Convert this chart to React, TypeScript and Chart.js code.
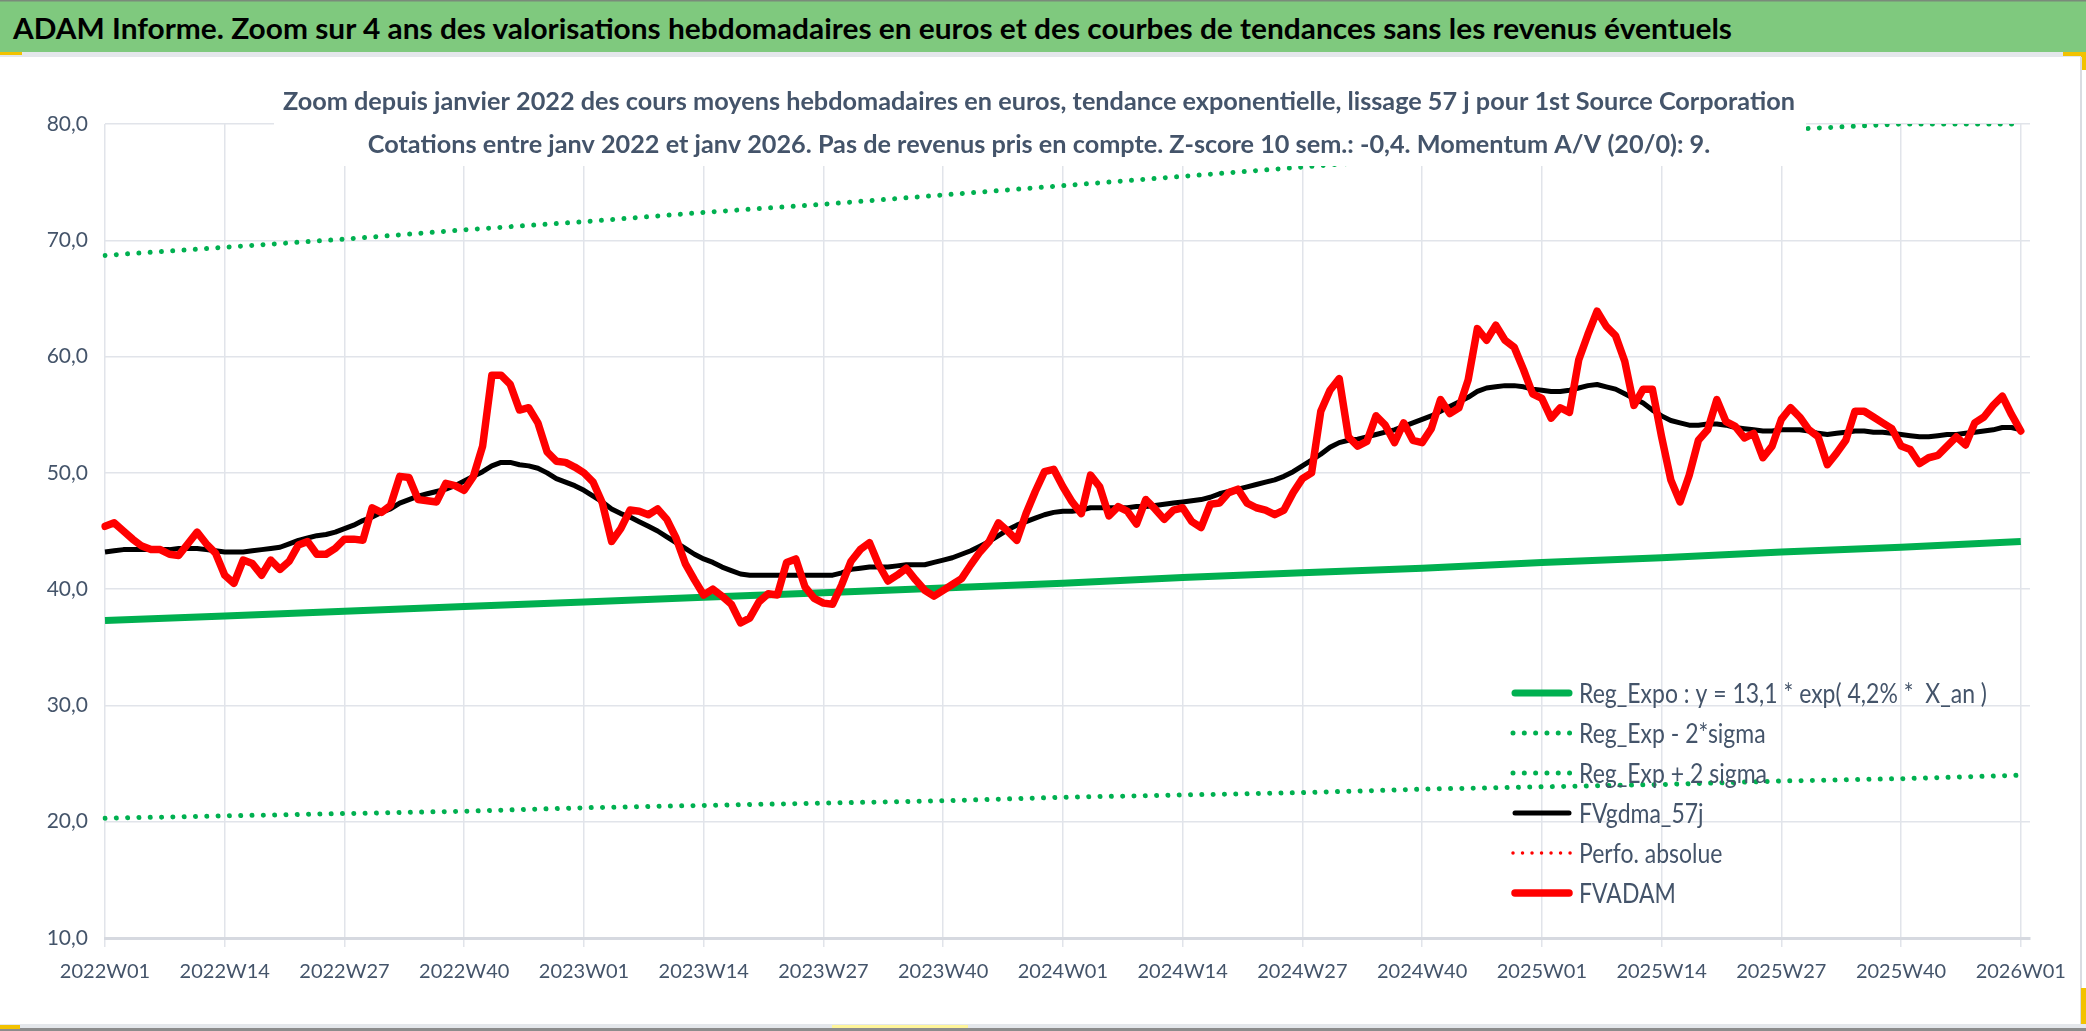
import React, { useEffect, useRef } from 'react';
import { Chart, registerables } from 'chart.js';

Chart.register(...registerables);

const FONT = "Lato, 'Open Sans', 'DejaVu Sans', sans-serif";
const TEXT = '#44546A';
const GRID = '#E1E4EA';
const AXIS = '#D6D9E0';

const HEADER =
  'ADAM Informe. Zoom sur 4 ans des valorisations hebdomadaires en euros et des courbes de tendances sans les revenus éventuels';
const SUBTITLE = [
  'Zoom depuis janvier 2022 des cours moyens hebdomadaires en euros, tendance exponentielle, lissage 57 j pour 1st Source Corporation',
  'Cotations entre janv 2022 et janv 2026. Pas de revenus pris en compte. Z-score 10 sem.: -0,4. Momentum A/V (20/0): 9.',
];

// weekly categories 2022W01 .. 2026W02 (last one is an empty slot at the right edge)
const WEEKS: string[] = (() => {
  const out: string[] = [];
  for (const y of [2022, 2023, 2024, 2025]) {
    for (let w = 1; w <= 52; w++) out.push(`${y}W${String(w).padStart(2, '0')}`);
  }
  out.push('2026W01', '2026W02');
  return out;
})();

const TICK_LABELS = [
  '2022W01', '2022W14', '2022W27', '2022W40',
  '2023W01', '2023W14', '2023W27', '2023W40',
  '2024W01', '2024W14', '2024W27', '2024W40',
  '2025W01', '2025W14', '2025W27', '2025W40',
  '2026W01',
];

// FVADAM weekly values (2022W01 .. 2026W01)
const FVADAM = [
  45.4, 45.7, 45.0, 44.3, 43.7, 43.4, 43.4, 43.0, 42.9, 43.9,
  44.9, 43.9, 43.1, 41.2, 40.5, 42.5, 42.2, 41.2, 42.5, 41.7,
  42.4, 43.8, 44.1, 43.0, 43.0, 43.5, 44.3, 44.3, 44.2, 47.0,
  46.6, 47.2, 49.7, 49.6, 47.7, 47.6, 47.5, 49.1, 48.9, 48.5,
  49.7, 52.3, 58.4, 58.4, 57.6, 55.4, 55.6, 54.3, 51.8, 51.0,
  50.9, 50.5, 50.0, 49.2, 47.4, 44.1, 45.2, 46.8, 46.7, 46.4,
  46.9, 46.0, 44.4, 42.2, 40.8, 39.5, 40.0, 39.4, 38.7, 37.1,
  37.5, 38.9, 39.6, 39.5, 42.3, 42.6, 40.2, 39.2, 38.8, 38.7,
  40.4, 42.4, 43.4, 44.0, 42.1, 40.7, 41.2, 41.8, 40.8, 39.9,
  39.4, 39.9, 40.4, 40.9, 42.1, 43.2, 44.1, 45.7, 45.0, 44.2,
  46.5, 48.4, 50.1, 50.3, 48.8, 47.5, 46.5, 49.8, 48.8, 46.3,
  47.1, 46.7, 45.6, 47.7, 46.9, 46.0, 46.8, 47.0, 45.8, 45.3,
  47.3, 47.4, 48.3, 48.6, 47.4, 47.0, 46.8, 46.4, 46.8, 48.3,
  49.5, 50.0, 55.3, 57.1, 58.1, 53.1, 52.3, 52.7, 54.9, 54.1,
  52.6, 54.3, 52.8, 52.6, 53.8, 56.3, 55.1, 55.6, 58.0, 62.4,
  61.4, 62.7, 61.4, 60.8, 58.9, 56.8, 56.4, 54.7, 55.6, 55.2,
  59.7, 61.9, 63.9, 62.6, 61.8, 59.6, 55.8, 57.2, 57.2, 53.1,
  49.4, 47.5, 49.8, 52.8, 53.7, 56.3, 54.4, 54.0, 53.0, 53.4,
  51.3, 52.3, 54.6, 55.6, 54.8, 53.7, 53.1, 50.7, 51.7, 52.8,
  55.3, 55.3, 54.8, 54.3, 53.8, 52.3, 52.0, 50.8, 51.3, 51.5,
  52.3, 53.1, 52.4, 54.3, 54.8, 55.8, 56.6, 55.0, 53.6,
];

// FVgdma_57j weekly values (2022W01 .. 2026W01)
const FVGDMA = [
  43.2, 43.3, 43.4, 43.4, 43.4, 43.4, 43.4, 43.4, 43.5, 43.5,
  43.5, 43.4, 43.3, 43.2, 43.2, 43.2, 43.3, 43.4, 43.5, 43.6,
  43.9, 44.2, 44.4, 44.6, 44.7, 44.9, 45.2, 45.5, 45.9, 46.2,
  46.6, 46.9, 47.4, 47.7, 48.0, 48.2, 48.4, 48.6, 48.9, 49.3,
  49.7, 50.1, 50.6, 50.9, 50.9, 50.7, 50.6, 50.4, 50.0, 49.5,
  49.2, 48.9, 48.5, 48.0, 47.5, 46.9, 46.5, 46.2, 45.8, 45.4,
  45.0, 44.5, 44.0, 43.5, 43.0, 42.6, 42.3, 41.9, 41.6, 41.3,
  41.2, 41.2, 41.2, 41.2, 41.2, 41.2, 41.2, 41.2, 41.2, 41.2,
  41.4, 41.7, 41.8, 41.9, 41.9, 41.9, 42.0, 42.1, 42.1, 42.1,
  42.3, 42.5, 42.7, 43.0, 43.3, 43.7, 44.1, 44.6, 45.1, 45.5,
  45.8, 46.1, 46.4, 46.6, 46.7, 46.7, 46.8, 47.0, 47.0, 47.0,
  47.0, 47.0, 47.1, 47.1, 47.2, 47.3, 47.4, 47.5, 47.6, 47.7,
  47.9, 48.2, 48.4, 48.6, 48.8, 49.0, 49.2, 49.4, 49.7, 50.1,
  50.6, 51.1, 51.6, 52.2, 52.6, 52.8, 52.9, 53.1, 53.3, 53.5,
  53.7, 54.0, 54.3, 54.6, 54.9, 55.3, 55.7, 56.1, 56.5, 57.0,
  57.3, 57.4, 57.5, 57.5, 57.4, 57.2, 57.1, 57.0, 57.0, 57.1,
  57.3, 57.5, 57.6, 57.4, 57.2, 56.8, 56.4, 56.0, 55.4, 54.9,
  54.5, 54.3, 54.1, 54.1, 54.2, 54.2, 54.1, 53.9, 53.8, 53.7,
  53.6, 53.6, 53.7, 53.7, 53.7, 53.6, 53.4, 53.3, 53.4, 53.5,
  53.6, 53.6, 53.5, 53.5, 53.4, 53.3, 53.2, 53.1, 53.1, 53.2,
  53.3, 53.3, 53.4, 53.5, 53.6, 53.7, 53.9, 53.9, 53.7,
];

// trend lines read at each labelled week (TICK_LABELS)
const REG_EXPO = [37.3, 37.7, 38.1, 38.5, 38.9, 39.3, 39.7, 40.1, 40.5, 41.0, 41.4, 41.8, 42.3, 42.7, 43.2, 43.6, 44.1];
const REG_LOW = [20.3, 20.5, 20.7, 20.9, 21.2, 21.4, 21.6, 21.8, 22.1, 22.3, 22.5, 22.8, 23.0, 23.2, 23.5, 23.7, 24.0];
const REG_HIGH = [68.7, 69.4, 70.1, 70.9, 71.6, 72.4, 73.1, 73.9, 74.7, 75.5, 76.3, 77.1, 77.9, 78.7, 79.5, 80.0, 80.0];
const PERFO_ABS: (number | null)[] = [];

const Y_MIN = 10;
const Y_MAX = 80;
const Y_STEP = 10;

const LEGEND_LABELS = [
  'Reg_Expo : y = 13,1 * exp( 4,2% *  X_an )',
  'Reg_Exp - 2*sigma',
  'Reg_Exp + 2 sigma',
  'FVgdma_57j',
  'Perfo. absolue',
  'FVADAM',
];

function atTicks(vals: number[]): (number | null)[] {
  return WEEKS.map((lab) => {
    const k = TICK_LABELS.indexOf(lab);
    return k >= 0 ? vals[k] : null;
  });
}

function measure(text: string, font: string): number {
  const c = document.createElement('canvas').getContext('2d') as CanvasRenderingContext2D;
  c.font = font;
  return c.measureText(text).width;
}

const SUB_FONT = `bold 25.5px ${FONT}`;
const LEG_FONT = `26px ${FONT}`;

export default function App() {
  const ref = useRef<HTMLCanvasElement | null>(null);

  useEffect(() => {
    document.body.style.margin = '0';
    document.body.style.overflow = 'hidden';
    const subScale = 1512 / measure(SUBTITLE[0], SUB_FONT);
    const legScale = 408 / measure(LEGEND_LABELS[0], LEG_FONT);

    const squeezed = (ctx: CanvasRenderingContext2D, text: string, x: number, y: number, sx: number) => {
      ctx.save();
      ctx.translate(x, y);
      ctx.scale(sx, 1);
      ctx.fillText(text, 0, 0);
      ctx.restore();
    };

    const overlay = {
      id: 'overlay',
      afterDraw(chart: any) {
        const ctx: CanvasRenderingContext2D = chart.ctx;
        ctx.save();
        // subtitle box (white, over the plot)
        ctx.fillStyle = '#ffffff';
        ctx.fillRect(274, 60, 1806 - 274, 166 - 60);
        ctx.fillStyle = TEXT;
        ctx.font = SUB_FONT;
        ctx.textAlign = 'center';
        ctx.textBaseline = 'alphabetic';
        squeezed(ctx, SUBTITLE[0], 1039, 110, subScale);
        squeezed(ctx, SUBTITLE[1], 1039, 153, subScale);

        // legend
        ctx.textAlign = 'left';
        ctx.font = LEG_FONT;
        chart.data.datasets.forEach((ds: any, i: number) => {
          const y = 693 + i * 40;
          ctx.save();
          ctx.strokeStyle = ds.borderColor;
          ctx.lineWidth = ds.borderWidth;
          ctx.lineCap = 'round';
          ctx.setLineDash(ds.borderDash || []);
          ctx.beginPath();
          ctx.moveTo(ds.borderDash ? 1513 : 1515, y);
          ctx.lineTo(ds.borderDash ? 1572 : 1569, y);
          ctx.stroke();
          ctx.restore();
          ctx.fillStyle = TEXT;
          squeezed(ctx, ds.label, 1579, y + 10, legScale);
        });
        ctx.restore();
      },
    };

    const chart = new Chart(ref.current as HTMLCanvasElement, {
      type: 'line',
      data: {
        labels: WEEKS,
        datasets: [
          {
            label: LEGEND_LABELS[0],
            data: atTicks(REG_EXPO),
            borderColor: '#00B050',
            borderWidth: 7,
            spanGaps: true,
            order: 3,
          },
          {
            label: LEGEND_LABELS[1],
            data: atTicks(REG_LOW),
            borderColor: '#00B050',
            borderWidth: 5,
            borderDash: [0.01, 11.3],
            borderCapStyle: 'round',
            spanGaps: true,
            order: 4,
          },
          {
            label: LEGEND_LABELS[2],
            data: atTicks(REG_HIGH),
            borderColor: '#00B050',
            borderWidth: 5,
            borderDash: [0.01, 11.3],
            borderCapStyle: 'round',
            spanGaps: true,
            order: 4,
          },
          {
            label: LEGEND_LABELS[3],
            data: FVGDMA,
            borderColor: '#000000',
            borderWidth: 5,
            borderJoinStyle: 'round',
            order: 1,
          },
          {
            label: LEGEND_LABELS[4],
            data: PERFO_ABS,
            borderColor: '#FF0000',
            borderWidth: 3.5,
            borderDash: [0.01, 9.5],
            borderCapStyle: 'round',
            order: 2,
          },
          {
            label: LEGEND_LABELS[5],
            data: FVADAM,
            borderColor: '#FF0000',
            borderWidth: 7.5,
            borderJoinStyle: 'round',
            borderCapStyle: 'round',
            order: 0,
          },
        ] as any,
      },
      options: {
        animation: false,
        responsive: false,
        events: [],
        elements: { point: { radius: 0 }, line: { tension: 0 } },
        layout: { padding: { left: 0, right: 56, top: 124, bottom: 0 } },
        plugins: {
          legend: { display: false },
          title: { display: false },
          tooltip: { enabled: false },
        },
        scales: {
          x: {
            type: 'category',
            offset: false,
            grid: {
              color: (c: any) => (c.index % 13 === 0 ? GRID : 'rgba(0,0,0,0)'),
              lineWidth: 1.5,
              tickLength: 9,
              drawTicks: true,
            },
            border: { display: true, color: AXIS, width: 3 },
            ticks: {
              autoSkip: false,
              maxRotation: 0,
              minRotation: 0,
              padding: 13,
              color: TEXT,
              font: { family: FONT, size: 20 },
              callback: (_v: any, i: number) => (TICK_LABELS.includes(WEEKS[i]) ? WEEKS[i] : ''),
            },
            afterFit: (s: any) => {
              s.height = 93;
            },
          },
          y: {
            min: Y_MIN,
            max: Y_MAX,
            ticks: {
              stepSize: Y_STEP,
              padding: 17,
              color: TEXT,
              font: { family: FONT, size: 21 },
              callback: (v: any) => Number(v).toFixed(1).replace('.', ','),
            },
            grid: { color: GRID, lineWidth: 1.5, drawTicks: false },
            border: { display: false },
            afterFit: (s: any) => {
              s.width = 105;
            },
          },
        },
      } as any,
      plugins: [overlay],
    });
    return () => chart.destroy();
  }, []);

  return (
    <div style={{ position: 'absolute', left: 0, top: 0, width: 2086, height: 1031, background: '#ffffff', overflow: 'hidden' }}>
      <canvas ref={ref} width={2086} height={1031} style={{ position: 'absolute', left: 0, top: 0, display: 'block' }} />
      <svg width={2086} height={52} style={{ position: 'absolute', left: 0, top: 0, display: 'block' }}>
        <rect x={0} y={0} width={2086} height={52} fill="#7FC97E" />
        <rect x={0} y={0} width={2086} height={1.5} fill="#7A8A7A" />
        <text
          x={13}
          y={39}
          fontFamily={FONT}
          fontWeight="bold"
          fontSize={28}
          fill="#000000"
          textLength={1719}
          lengthAdjust="spacingAndGlyphs"
        >
          {HEADER}
        </text>
      </svg>
      <div style={{ position: 'absolute', left: 0, top: 52, width: 2086, height: 5, background: '#E4E7EB' }} />
      <div style={{ position: 'absolute', left: 0, top: 52, width: 22, height: 3, background: '#F2C200' }} />
      <div style={{ position: 'absolute', left: 2063, top: 52, width: 23, height: 4, background: '#F2C200' }} />
      <div style={{ position: 'absolute', left: 2081, top: 52, width: 5, height: 18, background: '#F2C200' }} />
      <div style={{ position: 'absolute', left: 2080, top: 57, width: 2, height: 968, background: '#D9DCE1' }} />
      <div style={{ position: 'absolute', left: 2081, top: 988, width: 5, height: 40, background: '#F2C200' }} />
      <div style={{ position: 'absolute', left: 0, top: 1024, width: 2086, height: 4, background: '#E4E7EB' }} />
      <div style={{ position: 'absolute', left: 0, top: 1028, width: 2086, height: 3, background: '#8C8C8C' }} />
      <div style={{ position: 'absolute', left: 0, top: 1025, width: 20, height: 4, background: '#F2C200' }} />
      <div style={{ position: 'absolute', left: 832, top: 1025, width: 136, height: 3, background: '#FFF59A' }} />
    </div>
  );
}
